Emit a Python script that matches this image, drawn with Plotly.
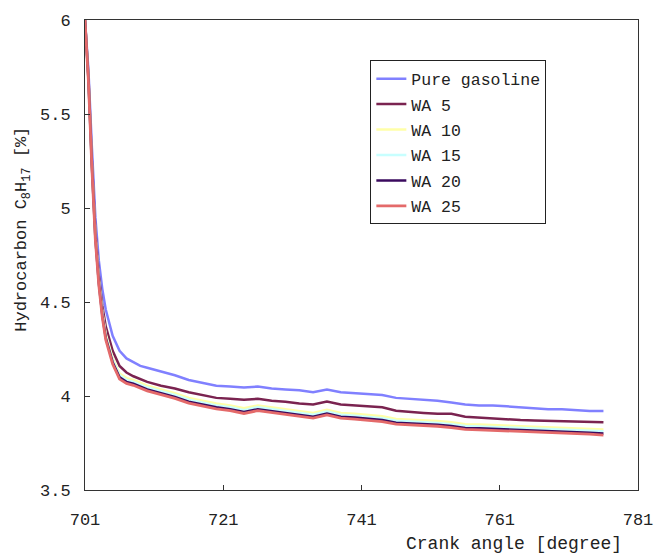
import plotly.graph_objects as go

crank = [701, 701.5, 702, 702.5, 703, 703.5, 704, 705, 706, 707, 708, 709, 710, 712, 714, 716, 718, 720,
         722, 724, 726, 728, 730, 732, 734, 736, 738, 740, 742, 744, 746, 748, 750, 752, 754, 756, 758,
         760, 762, 764, 766, 768, 770, 772, 774, 776]

pure = [6.0, 5.73, 5.32, 4.95, 4.72, 4.57, 4.46, 4.32, 4.24, 4.20, 4.18, 4.16, 4.15, 4.13, 4.11, 4.085,
        4.07, 4.055, 4.05, 4.045, 4.05, 4.04, 4.035, 4.03, 4.02, 4.035, 4.02, 4.015, 4.01, 4.005, 3.99,
        3.985, 3.98, 3.975, 3.965, 3.955, 3.95, 3.95, 3.945, 3.94, 3.935, 3.93, 3.93, 3.925, 3.92, 3.92]

wa5 = [6.0, 5.70, 5.25, 4.88, 4.64, 4.48, 4.37, 4.24, 4.16, 4.125, 4.105, 4.09, 4.075, 4.055, 4.04, 4.02,
       4.005, 3.99, 3.985, 3.98, 3.985, 3.975, 3.97, 3.96, 3.955, 3.97, 3.955, 3.95, 3.947, 3.94, 3.922,
       3.915, 3.91, 3.905, 3.905, 3.89, 3.885, 3.88, 3.875, 3.872, 3.87, 3.868, 3.867, 3.865, 3.862, 3.86]

wa10 = [6.0, 5.69, 5.23, 4.86, 4.62, 4.45, 4.33, 4.20, 4.12, 4.095, 4.085, 4.07, 4.055, 4.035, 4.015, 3.99,
        3.975, 3.96, 3.95, 3.935, 3.95, 3.94, 3.93, 3.92, 3.91, 3.927, 3.91, 3.905, 3.9, 3.892, 3.878,
        3.875, 3.872, 3.867, 3.86, 3.85, 3.848, 3.845, 3.842, 3.84, 3.838, 3.835, 3.832, 3.83, 3.825, 3.822]

wa15 = [6.0, 5.685, 5.225, 4.85, 4.61, 4.44, 4.32, 4.19, 4.11, 4.085, 4.075, 4.06, 4.045, 4.025, 4.005, 3.98,
        3.965, 3.95, 3.94, 3.925, 3.94, 3.93, 3.92, 3.91, 3.90, 3.917, 3.90, 3.895, 3.89, 3.882, 3.868,
        3.865, 3.862, 3.857, 3.85, 3.84, 3.838, 3.835, 3.832, 3.83, 3.828, 3.825, 3.822, 3.82, 3.815, 3.812]

wa20 = [6.0, 5.68, 5.22, 4.84, 4.60, 4.43, 4.31, 4.18, 4.10, 4.075, 4.065, 4.05, 4.035, 4.015, 3.995, 3.97,
        3.955, 3.94, 3.93, 3.915, 3.93, 3.92, 3.91, 3.90, 3.89, 3.907, 3.89, 3.885, 3.88, 3.872, 3.858,
        3.855, 3.852, 3.847, 3.84, 3.83, 3.828, 3.825, 3.822, 3.82, 3.818, 3.815, 3.812, 3.81, 3.805, 3.80]

wa25 = [6.0, 5.67, 5.21, 4.83, 4.59, 4.42, 4.30, 4.17, 4.09, 4.067, 4.057, 4.042, 4.027, 4.007, 3.987, 3.962,
        3.947, 3.932, 3.922, 3.907, 3.922, 3.912, 3.902, 3.892, 3.882, 3.899, 3.882, 3.877, 3.872, 3.864, 3.85,
        3.847, 3.844, 3.839, 3.832, 3.822, 3.82, 3.817, 3.814, 3.812, 3.81, 3.807, 3.804, 3.802, 3.797, 3.792]

names = ["Pure gasoline", "WA 5", "WA 10", "WA 15", "WA 20", "WA 25"]
series = [pure, wa5, wa10, wa15, wa20, wa25]
colors = ["#8080ff", "#7a2350", "#ffffa8", "#c8ffff", "#3a0a5e", "#e46a6a"]
widths = [2.5, 2.5, 2.5, 2.5, 2.5, 2.8]

FONT = "Liberation Mono"
TXT = "#222"

fig = go.Figure()
for i, (n, s, c, w) in enumerate(zip(names, series, colors, widths)):
    fig.add_trace(go.Scatter(x=crank, y=s, name=n, mode="lines",
                             line=dict(color=c, width=w), legendgroup=f"g{i}"))

fig.update_layout(
    width=665, height=555,
    margin=dict(l=85, r=16, t=12, b=65),
    paper_bgcolor="white", plot_bgcolor="white",
    font=dict(family=FONT, size=16, color=TXT),
    showlegend=True,
    legend=dict(x=0.516, y=0.914, xanchor="left", yanchor="top",
                bordercolor="#222", borderwidth=1, bgcolor="white",
                font=dict(family=FONT, size=16.5, color=TXT),
                tracegroupgap=1, itemwidth=30),
    xaxis=dict(range=[701, 781], tickvals=[701, 721, 741, 761, 781],
               ticks="inside", ticklen=5, tickcolor="#333",
               showline=True, linecolor="#333", linewidth=1, mirror=True,
               showgrid=False, zeroline=False, ticklabelstandoff=14,
               ticklabeloverflow="allow",
               tickfont=dict(family=FONT, size=17)),
    yaxis=dict(range=[3.5, 6], tickvals=[3.5, 4, 4.5, 5, 5.5, 6],
               ticktext=["3.5", "4", "4.5", "5", "5.5", "6"],
               ticks="inside", ticklen=5, tickcolor="#333",
               showline=True, linecolor="#333", linewidth=1, mirror=True,
               showgrid=False, zeroline=False, ticklabelstandoff=10,
               tickfont=dict(family=FONT, size=17)),
)

fig.add_annotation(text="Hydrocarbon C<sub>8</sub>H<sub>17</sub> [%]", xref="paper", yref="paper",
                   x=-0.111, y=0.555, xanchor="center", yanchor="middle", textangle=-90,
                   showarrow=False, font=dict(family=FONT, size=17, color=TXT))

fig.add_annotation(text="Crank angle [degree]", xref="paper", yref="paper",
                   x=0.975, y=-0.115, xanchor="right", yanchor="middle",
                   showarrow=False, font=dict(family=FONT, size=18, color=TXT))

fig.write_html("out.html")
